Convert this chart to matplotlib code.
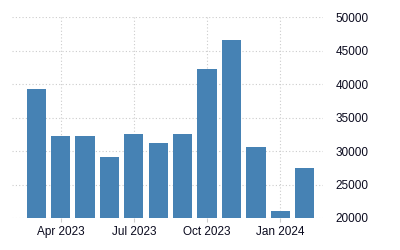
import matplotlib
matplotlib.use("Agg")
import matplotlib.pyplot as plt

# monthly values, Mar 2023 .. Feb 2024
months = ["Mar 2023", "Apr 2023", "May 2023", "Jun 2023", "Jul 2023", "Aug 2023",
          "Sep 2023", "Oct 2023", "Nov 2023", "Dec 2023", "Jan 2024", "Feb 2024"]
values = [39300, 32250, 32250, 29150, 32550, 31200,
          32550, 42250, 46600, 30600, 21050, 27450]
tick_labels = ["Apr 2023", "Jul 2023", "Oct 2023", "Jan 2024"]
y_ticks = [20000, 25000, 30000, 35000, 40000, 45000, 50000]

plt.rcParams["font.family"] = ["Liberation Sans", "DejaVu Sans"]

fig = plt.figure(figsize=(4, 2.5), dpi=100)
ax = fig.add_axes([0.03, 0.128, 0.7775, 0.803])

x = list(range(len(months)))
ax.bar(x, values, width=0.79, color="#4682b4", zorder=3)

ax.set_xlim(-0.99, 11.75)
ax.set_ylim(20000, 50000)

ax.set_xticks([months.index(t) for t in tick_labels])
ax.set_xticklabels(tick_labels)
ax.set_yticks(y_ticks)
ax.yaxis.tick_right()

ax.grid(True, color="#cccccc", linestyle=(0, (1, 2)), linewidth=0.8, zorder=0)
ax.set_axisbelow(True)
for s in ax.spines.values():
    s.set_visible(False)

ax.tick_params(axis="y", length=0, pad=9, labelsize=8.5, labelcolor="#0a0a1e")
ax.tick_params(axis="x", length=3, color="#cccccc", pad=3, labelsize=8.5, labelcolor="#0a0a1e")

fig.savefig("out.png", dpi=100)
